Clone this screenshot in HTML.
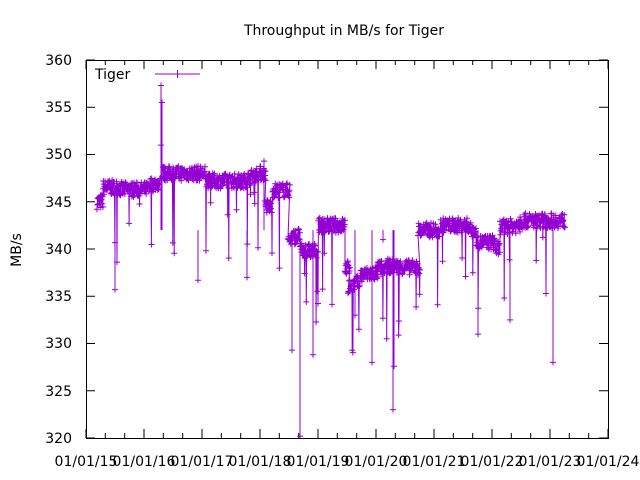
<!DOCTYPE html>
<html><head><meta charset="utf-8"><style>
body{margin:0;background:#fff}
svg{display:block;font-family:"DejaVu Sans","Liberation Sans",sans-serif}
</style></head><body>
<svg id="s" width="640" height="480" viewBox="0 0 640 480">
<rect width="640" height="480" fill="#fff"/>
<text x="344" y="35" font-size="14" text-anchor="middle">Throughput in MB/s for Tiger</text>
<text transform="translate(21,250) rotate(-90)" font-size="14" text-anchor="middle">MB/s</text>
<g font-size="14" text-anchor="end">
<text x="72" y="443">320</text><text x="72" y="396">325</text><text x="72" y="348">330</text><text x="72" y="301">335</text><text x="72" y="254">340</text><text x="72" y="207">345</text><text x="72" y="159">350</text><text x="72" y="112">355</text><text x="72" y="65">360</text>
</g>
<g font-size="14" text-anchor="middle">
<text x="86" y="466">01/01/15</text><text x="144" y="466">01/01/16</text><text x="202" y="466">01/01/17</text><text x="260" y="466">01/01/18</text><text x="318" y="466">01/01/19</text><text x="376" y="466">01/01/20</text><text x="434" y="466">01/01/21</text><text x="492" y="466">01/01/22</text><text x="550" y="466">01/01/23</text><text x="608" y="466">01/01/24</text>
</g>
<g id="ticks" stroke="#000" stroke-width="1"></g>
<g id="data" fill="none" stroke="#9400d3" stroke-width="1"></g>
<text x="95" y="79" font-size="14">Tiger</text>
<line x1="155" y1="74" x2="200" y2="74" stroke="#9400d3"/>
<path d="M177.5 70v8M173.5 74h8" stroke="#9400d3"/>
<rect x="86.5" y="60.5" width="522" height="378" fill="none" stroke="#000"/>
</svg>
<script>
var t=document.getElementById('ticks'),h='';
function Y(v){return 438-(v-320)*9.45;}
for(var v=320;v<=360;v+=5){var y=Y(v).toFixed(1);h+='<path d="M86 '+y+'h9M608 '+y+'h-9"/>';}
for(var i=0;i<=27;i++){var x=(86+i*58/3).toFixed(1);var L=(i%3==0)?9:5;h+='<path d="M'+x+' 438v-'+L+'M'+x+' 60v'+L+'"/>';}
t.innerHTML=h;
var seg=[[97,103,345,345],[103,120,346.5,346.5],[120,150,346.3,346.3],[150,160,346.8,347],[163,205,348,348],[205,240,347.2,347.2],[240,258,347,348],[258,266,348,348],[265,272,344.5,344.5],[272,290,346.2,346.2],[288,300,341,341.5],[300,318,339.8,339.8],[318,345,342.5,342.5],[345,350,338,338],[348,360,336,336.5],[360,378,337.2,337.5],[378,386,338,338],[386,420,338.2,338],[418,440,342,342],[440,470,342.5,342.5],[470,476,342,342],[476,495,340.7,340.7],[495,500,340,340],[500,520,342.3,342.5],[518,540,343,343],[540,565,343,343]];
var s=7;function r(){s=(s*16807)%2147483647;return s/2147483647;}
var d='',m='';
seg.forEach(function(g){for(var x=g[0];x<g[1];x+=0.35){var b=g[2]+(g[3]-g[2])*(x-g[0])/(g[1]-g[0]);var v=b+(r()-0.5)*1.6;if(r()<0.03)v=b-1.5-r()*7;var y=Y(v);d+=(d?'L':'M')+x.toFixed(1)+' '+y.toFixed(1);m+='M'+(x-3).toFixed(1)+' '+y.toFixed(1)+'h6M'+x.toFixed(1)+' '+(y-3).toFixed(1)+'v6';}});
[[161,357.3],[162,355.5],[161,351],[300,320.2],[313,328.8],[292,329.3],[393,323],[394,327.6],[372,328],[383,341],[553,328],[478,331],[510,332.5],[115,335.7],[198,336.7],[264,349.3],[247,337],[355,333]].forEach(function(p){var y=Y(p[1]);d+='M'+p[0]+' '+Y(342).toFixed(1)+'L'+p[0]+' '+y.toFixed(1);m+='M'+(p[0]-3)+' '+y.toFixed(1)+'h6M'+p[0]+' '+(y-3).toFixed(1)+'v6';});
document.getElementById('data').innerHTML='<path d="'+d+'"/><path d="'+m+'"/>';
</script>
</body></html>
